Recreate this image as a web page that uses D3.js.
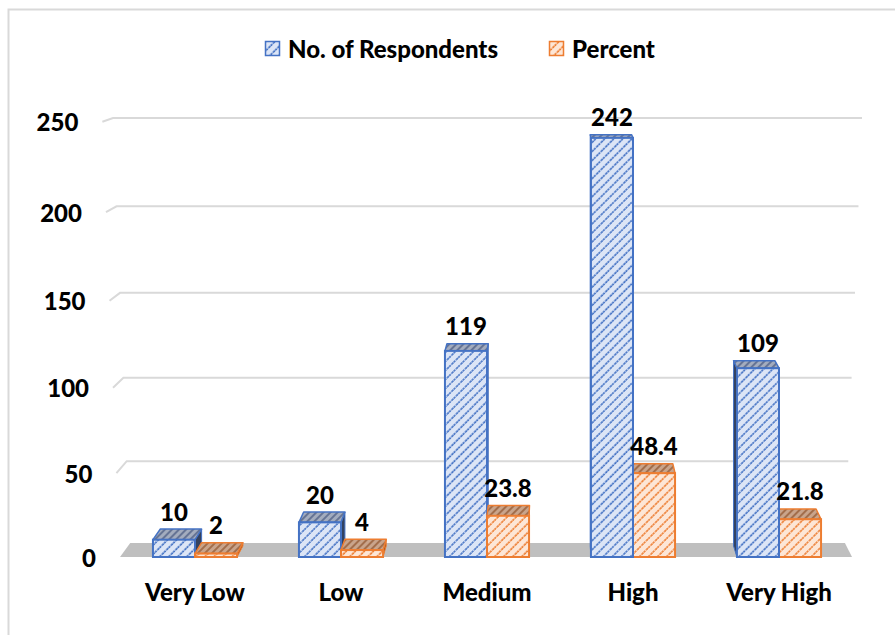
<!DOCTYPE html>
<html>
<head>
<meta charset="utf-8">
<script src="https://cdn.jsdelivr.net/npm/d3@7"></script>
<style>
  body { margin: 0; background: #fff; }
  text { font-family: Lato, "Open Sans", sans-serif; font-weight: 900; fill: #000; }
</style>
</head>
<body>
<svg id="chart" width="895" height="635"></svg>
<script>
// ---- data ----
const categories = ["Very Low", "Low", "Medium", "High", "Very High"];
const respondents = [10, 20, 119, 242, 109];
const percent = [2, 4, 23.8, 48.4, 21.8];
const seriesNames = ["No. of Respondents", "Percent"];
const yTicks = [0, 50, 100, 150, 200, 250];

// ---- styles ----
const series = [
  { name: seriesNames[0], values: respondents, stroke: "#4472c4", front: "pBlue", top: "pBlueTop", side: "#34425f" },
  { name: seriesNames[1], values: percent, stroke: "#ed7d31", front: "pOrange", top: "pOrangeTop", side: "#9c5120" }
];

const svg = d3.select("#chart");
const defs = svg.append("defs");

function hatch(id, bg, fg, size, dash) {
  const p = defs.append("pattern")
    .attr("id", id)
    .attr("patternUnits", "userSpaceOnUse")
    .attr("width", size).attr("height", size)
    .attr("patternTransform", "rotate(45)");
  p.append("rect").attr("width", size).attr("height", size).attr("fill", bg);
  p.append("line")
    .attr("x1", 1).attr("y1", 0).attr("x2", 1).attr("y2", size)
    .attr("stroke", fg).attr("stroke-width", 1.6)
    .attr("stroke-dasharray", dash);
}
hatch("pBlue", "#dce5f6", "#4472c4", 6.4, "2.4 1.1");
hatch("pOrange", "#fde6d6", "#ed7d31", 6.4, "2.4 1.1");
hatch("pBlueTop", "#a3acbe", "#56668a", 5, null);
hatch("pOrangeTop", "#c9a48b", "#98603c", 5, null);

// ---- frame ----
svg.append("rect")
  .attr("x", 8.5).attr("y", 9.5)
  .attr("width", 900).attr("height", 700)
  .attr("fill", "none").attr("stroke", "#d9d9d9").attr("stroke-width", 2);

// ---- projection helpers ----
// horizontal position of the category columns along the front edge of the floor
const x = d3.scaleBand().domain(categories).range([122, 852]);
const barW = x.bandwidth() * 0.288;

// bar front faces (nearest plane)
const yFront = d3.scaleLinear().domain([0, 250]).range([557, 124]);

// back wall: slight foreshortening from looking down on the chart
const wallT = d3.scaleLinear().domain([0, 250]).range([0, 1]);
const yWall = v => { const t = wallT(v); return (543 - 430.4 * t) / (1 - 0.046 * t); };
const wallLeft = d3.scaleLinear().domain([543, 118]).range([130, 113]);
const wallRight = d3.scaleLinear().domain([543, 118]).range([845, 862]);

// depth lines converge towards this point
const VP = [553, -36];
const barDepth = 0.0185;
const toBack = (p, d) => [p[0] + d * (VP[0] - p[0]), p[1] + d * (VP[1] - p[1])];
const floorDepth = 0.0236;
const wallToFront = p => {
  const k = floorDepth / (1 - floorDepth);
  return [p[0] + k * (p[0] - VP[0]), p[1] + k * (p[1] - VP[1])];
};

// ---- floor ----
const fL = [x.range()[0] - 2, yFront(0)];
const fR = [x.range()[1], yFront(0)];
svg.append("polygon")
  .attr("points", [fL, fR, toBack(fR, floorDepth), toBack(fL, floorDepth)].map(p => p.join(",")).join(" "))
  .attr("fill", "#bfbfbf");

// ---- gridlines and axis labels ----
const grid = svg.append("g");
yTicks.forEach(v => {
  const yw = yWall(v);
  const corner = [wallLeft(yw), yw];
  const front = v === 0 ? fL : wallToFront(corner);
  if (v > 0) {
    grid.append("polyline")
      .attr("points", [front, corner, [wallRight(yw), yw]].map(p => p.join(",")).join(" "))
      .attr("fill", "none").attr("stroke", "#d9d9d9").attr("stroke-width", 2);
  }
  grid.append("text")
    .attr("x", front[0] - 24).attr("y", front[1])
    .attr("text-anchor", "end").attr("dominant-baseline", "central")
    .attr("font-size", 24)
    .text(v);
});

// ---- bars ----
const bars = [];
categories.forEach((c, i) => {
  series.forEach((s, j) => {
    const x0 = x(c) + x.bandwidth() / 2 - barW + j * barW;
    bars.push({ s, v: s.values[i], x0, x1: x0 + barW });
  });
});
// draw the columns furthest from the vanishing line first
bars.sort((a, b) => Math.abs(b.x0 + barW / 2 - VP[0]) - Math.abs(a.x0 + barW / 2 - VP[0]));

const pts = arr => arr.map(p => p.join(",")).join(" ");
const barG = svg.append("g");
bars.forEach(b => {
  const yt = yFront(b.v), yb = yFront(0);
  const g = barG.append("g");
  const cx = (b.x0 + b.x1) / 2;
  if (b.x1 < VP[0]) {
    g.append("polygon")
      .attr("points", pts([[b.x1, yt], [b.x1, yb], toBack([b.x1, yb], barDepth), toBack([b.x1, yt], barDepth)]))
      .attr("fill", b.s.side).attr("stroke", b.s.stroke).attr("stroke-width", 1);
  } else if (b.x0 > VP[0]) {
    g.append("polygon")
      .attr("points", pts([[b.x0, yt], [b.x0, yb], toBack([b.x0, yb], barDepth), toBack([b.x0, yt], barDepth)]))
      .attr("fill", b.s.side).attr("stroke", b.s.stroke).attr("stroke-width", 1);
  }
  g.append("polygon")
    .attr("points", pts([[b.x0, yt], [b.x1, yt], toBack([b.x1, yt], barDepth), toBack([b.x0, yt], barDepth)]))
    .attr("fill", `url(#${b.s.top})`).attr("stroke", b.s.stroke).attr("stroke-width", 1.5)
    .attr("stroke-linejoin", "round");
  g.append("rect")
    .attr("x", b.x0).attr("y", yt)
    .attr("width", barW).attr("height", yb - yt)
    .attr("fill", `url(#${b.s.front})`).attr("stroke", b.s.stroke).attr("stroke-width", 2);
  b.labelX = cx;
  b.labelY = toBack([cx, yt], barDepth)[1] - 18;
});

// value labels
const labG = svg.append("g");
bars.forEach(b => {
  labG.append("text")
    .attr("x", b.labelX).attr("y", b.labelY)
    .attr("text-anchor", "middle").attr("dominant-baseline", "central")
    .attr("font-size", 24)
    .text(b.v);
});

// ---- category labels ----
svg.append("g").selectAll("text").data(categories).join("text")
  .attr("x", d => x(d) + x.bandwidth() / 2)
  .attr("y", 591)
  .attr("text-anchor", "middle").attr("dominant-baseline", "central")
  .attr("font-size", 24)
  .text(d => d);

// ---- legend ----
const legend = svg.append("g");
const legendX = [265, 549];
series.forEach((s, j) => {
  const lg = legend.append("g").attr("transform", `translate(${legendX[j]},41)`);
  lg.append("rect").attr("x", 0.5).attr("y", 0.5).attr("width", 14).attr("height", 14)
    .attr("fill", `url(#${s.front})`).attr("stroke", s.stroke).attr("stroke-width", 1.5);
  lg.append("text").attr("x", 23).attr("y", 7)
    .attr("dominant-baseline", "central").attr("font-size", 24)
    .text(s.name);
});
</script>
</body>
</html>
